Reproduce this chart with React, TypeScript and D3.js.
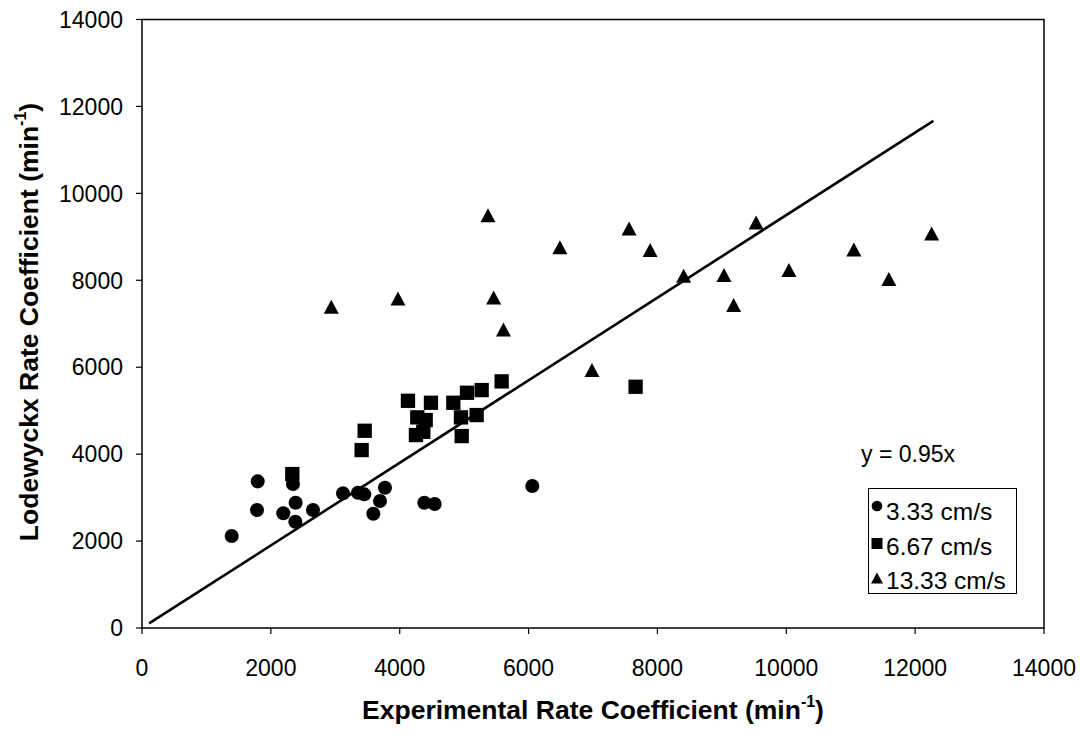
import React from "react";
import * as d3 from "d3";

const xTicks = [0, 2000, 4000, 6000, 8000, 10000, 12000, 14000];
const yTicks = [0, 2000, 4000, 6000, 8000, 10000, 12000, 14000];

const circX = [1392, 1796, 1785, 2343, 2193, 2385, 2380, 2654, 3120, 3352, 3450, 3771, 3694, 3590, 4382, 4542, 6058];
const circY = [2116, 3374, 2714, 3312, 2638, 2882, 2445, 2714, 3098, 3112, 3075, 3227, 2921, 2629, 2882, 2852, 3266];

const sqX = [2333, 3409, 3456, 4128, 4252, 4273, 4366, 4403, 4485, 4832, 4951, 4962, 5044, 5194, 5272, 5582, 7661];
const sqY = [3542, 4094, 4538, 5228, 4439, 4846, 4515, 4784, 5182, 5182, 4846, 4416, 5412, 4899, 5474, 5674, 5550];

const triX = [2938, 3973, 5370, 5458, 5610, 6486, 6984, 7560, 7887, 8407, 9033, 9183, 9532, 10041, 11049, 11592, 12256];
const triY = [7390, 7583, 9499, 7606, 6870, 8760, 5934, 9193, 8694, 8103, 8119, 7429, 9331, 8234, 8710, 8027, 9078];

const seriesNames = ["3.33 cm/s", "6.67 cm/s", "13.33 cm/s"];
const slope = 0.95;
const lineRange = [110, 12283];

function triPath(w: number, h: number) {
  const p = d3.path();
  p.moveTo(0, -h / 2);
  p.lineTo(w / 2, h / 2);
  p.lineTo(-w / 2, h / 2);
  p.closePath();
  return p.toString();
}

export default function App() {
  const W = 1080, H = 740;
  const x = d3.scaleLinear().domain([0, 14000]).range([142, 1044]);
  const y = d3.scaleLinear().domain([0, 14000]).range([628, 19.5]);
  const font = "'Liberation Sans', Arial, sans-serif";

  const circ = d3.symbol().type(d3.symbolCircle).size(155)();
  const sq = d3.symbol().type(d3.symbolSquare).size(205)();
  const tri = triPath(15, 14);
  const circL = d3.symbol().type(d3.symbolCircle).size(90)();
  const sqL = d3.symbol().type(d3.symbolSquare).size(121)();
  const triL = triPath(12, 11);

  const line = d3.line<number>().x((v) => x(v)).y((v) => y(v * slope));

  const series = [
    { xs: circX, ys: circY, path: circ },
    { xs: sqX, ys: sqY, path: sq },
    { xs: triX, ys: triY, path: tri },
  ];
  const legendPaths = [circL, sqL, triL];
  const legendMarkY = [506, 543.5, 578];
  const legendTextY = [520, 555, 589];

  return (
    <svg width={W} height={H} style={{ position: "absolute", left: 0, top: 0, background: "#fff" }} fontFamily={font}>
      <rect x={0} y={0} width={W} height={H} fill="#fff" />
      <rect x={142} y={19.5} width={1044 - 142} height={628 - 19.5} fill="none" stroke="#000" strokeWidth={1.5} />
      {yTicks.map((t) => (
        <g key={"y" + t}>
          <line x1={136} x2={142} y1={y(t)} y2={y(t)} stroke="#000" strokeWidth={1.2} />
          <text x={123} y={y(t)} dy="0.36em" textAnchor="end" fontSize={23} fill="#000">{t}</text>
        </g>
      ))}
      {xTicks.map((t) => (
        <g key={"x" + t}>
          <line x1={x(t)} x2={x(t)} y1={628} y2={634} stroke="#000" strokeWidth={1.2} />
          <text x={x(t)} y={676} textAnchor="middle" fontSize={23} fill="#000">{t}</text>
        </g>
      ))}
      {series.map((s, i) =>
        s.xs.map((xv, j) => (
          <path key={i + "-" + j} d={s.path} transform={`translate(${x(xv)},${y(s.ys[j])})`} fill="#000" />
        ))
      )}
      <path d={line(lineRange) || ""} fill="none" stroke="#000" strokeWidth={2.6} />
      <text x={861} y={462} fontSize={23} fill="#000">y = 0.95x</text>
      <rect x={868.5} y={488.5} width={148} height={105} fill="#fff" stroke="#000" strokeWidth={1} />
      {seriesNames.map((n, i) => (
        <g key={n}>
          <path d={legendPaths[i]} transform={`translate(877,${legendMarkY[i]})`} fill="#000" />
          <text x={886} y={legendTextY[i]} fontSize={24.5} fill="#000">{n}</text>
        </g>
      ))}
      <text x={593} y={719} textAnchor="middle" fontSize={26.5} fontWeight="bold" fill="#000">
        Experimental Rate Coefficient (min
        <tspan fontSize={16} dy={-12}>-1</tspan>
        <tspan dy={12}>)</tspan>
      </text>
      <text transform="translate(38,322) rotate(-90)" textAnchor="middle" fontSize={26.5} fontWeight="bold" fill="#000">
        Lodewyckx Rate Coefficient (min
        <tspan fontSize={16} dy={-12}>-1</tspan>
        <tspan dy={12}>)</tspan>
      </text>
    </svg>
  );
}
